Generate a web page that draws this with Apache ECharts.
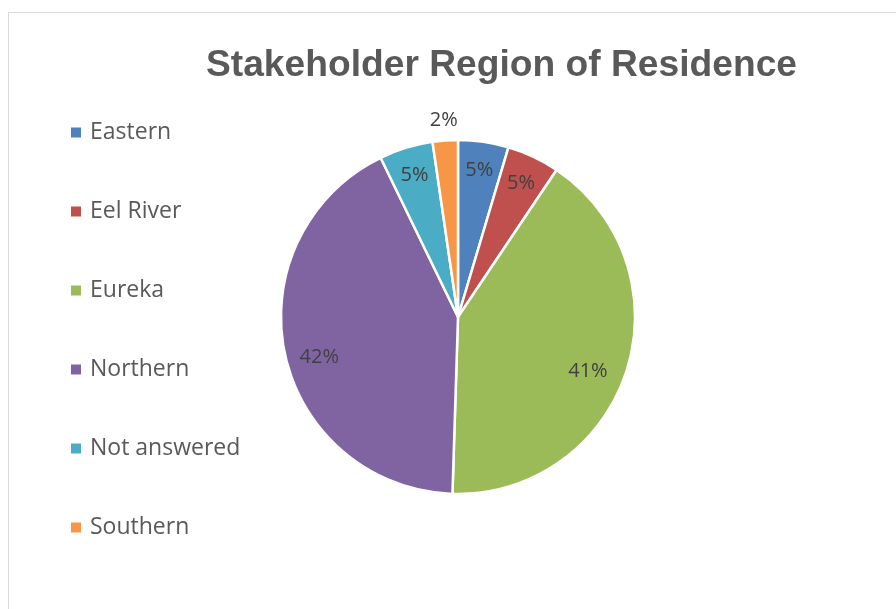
<!DOCTYPE html>
<html>
<head>
<meta charset="utf-8">
<script src="https://cdn.jsdelivr.net/npm/echarts@6/dist/echarts.min.js"></script>
<style>
  html, body { margin: 0; padding: 0; background: #fff; }
  #frame { position: absolute; left: 8px; top: 12px; width: 900px; height: 610px;
           border: 1px solid #d9d9d9; box-sizing: border-box; }
  #main { position: absolute; left: 0; top: 0; width: 896px; height: 609px; }
</style>
</head>
<body>
<div id="frame"></div>
<div id="main"></div>
<script>
// values (share of respondents, %)
var regions = ['Eastern', 'Eel River', 'Eureka', 'Northern', 'Not answered', 'Southern'];
var shares = [4.6, 4.8, 41.1, 42.3, 4.9, 2.3];
var shownLabels = ['5%', '5%', '41%', '42%', '5%', '2%'];
var colors = ['#4F81BD', '#C0504D', '#9BBB59', '#8064A2', '#4BACC6', '#F79646'];
var outsideLabel = 'Southern';

var center = [458, 317];
var R = 177;

// small nudges so the big labels sit where Excel put them
var labelNudge = { 'Eureka': [-11, 9], 'Northern': [6, 9] };

var pieData = regions.map(function (name, i) {
  return { name: name, value: shares[i] };
});

function labelData(outer) {
  return regions.map(function (name, i) {
    var show = outer ? name === outsideLabel : name !== outsideLabel;
    var lab = { show: show };
    if (labelNudge[name]) lab.offset = labelNudge[name];
    return { name: name, value: shares[i], label: lab };
  });
}

var labelStyle = {
  position: 'inside',
  fontFamily: 'Open Sans',
  fontSize: 20,
  color: '#404040',
  formatter: function (p) { return shownLabels[p.dataIndex]; }
};

var chart = echarts.init(document.getElementById('main'));
chart.setOption({
  animation: false,
  color: colors,
  title: {
    text: 'Stakeholder Region of Residence',
    left: 201,
    top: 42,
    textStyle: { fontFamily: 'Liberation Sans', fontWeight: 'bold', fontSize: 37.2, color: '#595959' }
  },
  legend: {
    orient: 'vertical',
    left: 66,
    top: 116,
    icon: 'rect',
    itemWidth: 10,
    itemHeight: 10,
    itemGap: 56,
    itemStyle: { borderWidth: 0 },
    textStyle: { fontFamily: 'Open Sans', fontSize: 23, color: '#595959', lineHeight: 23, padding: [0, 0, 0, 4] },
    data: regions
  },
  series: [
    {
      type: 'pie',
      center: center,
      radius: [0, R],
      startAngle: 90,
      clockwise: true,
      label: { show: false },
      labelLine: { show: false },
      itemStyle: { borderColor: '#fff', borderWidth: 2.5 },
      data: pieData
    },
    {
      type: 'pie',
      silent: true,
      center: center,
      radius: [113, R],
      startAngle: 90,
      clockwise: true,
      itemStyle: { color: 'rgba(0,0,0,0)' },
      label: labelStyle,
      labelLine: { show: false },
      data: labelData(false)
    },
    {
      type: 'pie',
      silent: true,
      center: center,
      radius: [R + 2, R + 32],
      startAngle: 90,
      clockwise: true,
      itemStyle: { color: 'rgba(0,0,0,0)' },
      label: labelStyle,
      labelLine: { show: false },
      data: labelData(true)
    }
  ]
});
</script>
</body>
</html>
